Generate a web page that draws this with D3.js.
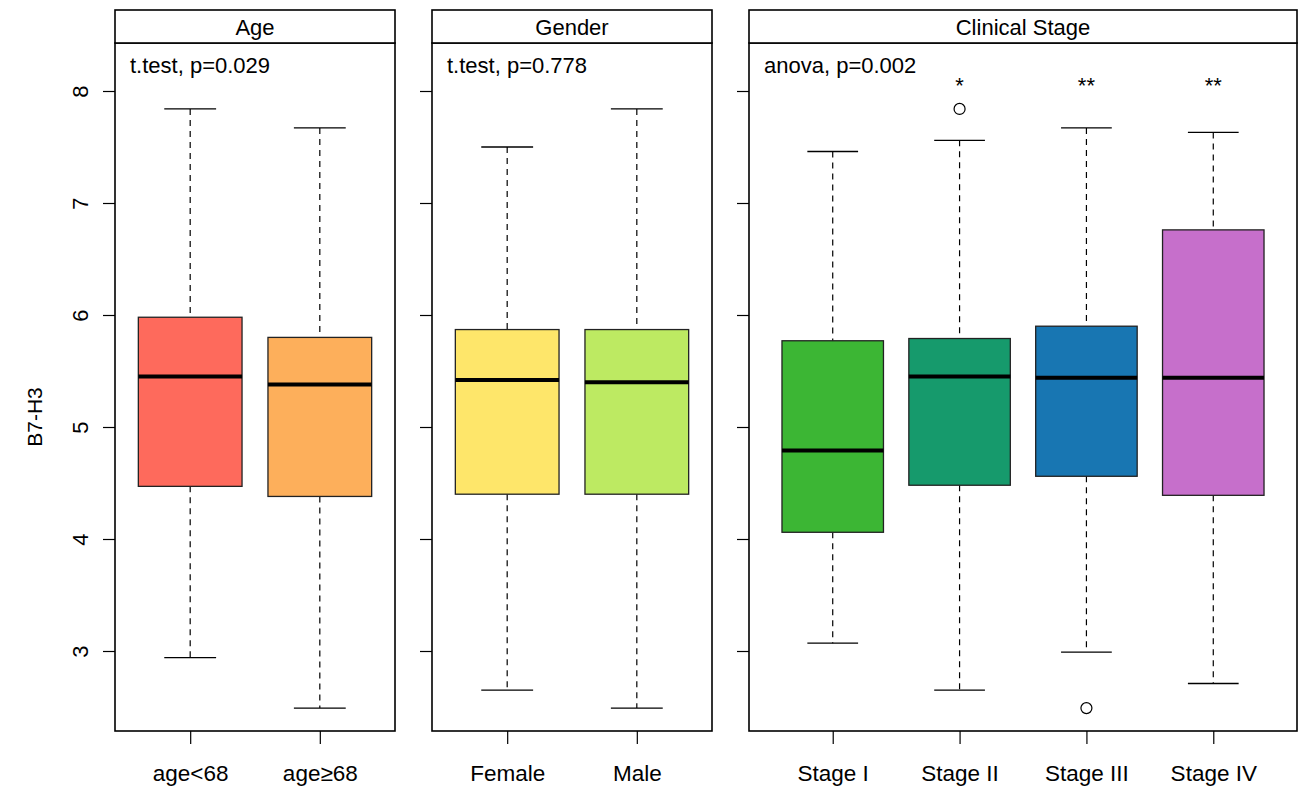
<!DOCTYPE html>
<html lang="en">
  <head>
    <meta charset="UTF-8" />
    <title>B7-H3 boxplots</title>
    <style>
      body { margin: 0; background: #fff; }
      text { font-family: "Liberation Sans", Arial, sans-serif; fill: #000; }
    </style>
  </head>
  <body>
    <svg width="1298" height="791"></svg>
    <script src="https://d3js.org/d3.v7.min.js"></script>
    <script>
      // panel info
      var panelNames = ["Age", "Gender", "Clinical Stage"];
      var panelTests = ["t.test, p=0.029", "t.test, p=0.778", "anova, p=0.002"];

      // groups
      var groups = ["age<68", "age\u226568", "Female", "Male", "Stage I", "Stage II", "Stage III", "Stage IV"];
      var groupPanel = [0, 0, 1, 1, 2, 2, 2, 2];
      var lowWhisker = [2.94, 2.49, 2.65, 2.49, 3.07, 2.65, 2.99, 2.71];
      var q1 = [4.47, 4.38, 4.40, 4.40, 4.06, 4.48, 4.56, 4.39];
      var median = [5.45, 5.38, 5.42, 5.40, 4.79, 5.45, 5.44, 5.44];
      var q3 = [5.98, 5.80, 5.87, 5.87, 5.77, 5.79, 5.90, 6.76];
      var highWhisker = [7.84, 7.67, 7.50, 7.84, 7.46, 7.56, 7.67, 7.63];
      var outliers = [[], [], [], [], [], [7.84], [2.49], []];
      var signif = ["", "", "", "", "", "*", "**", "**"];
      var colors = ["#FE6A5C", "#FDAF5B", "#FEE66A", "#BDEA62", "#3CB634", "#169A6C", "#1876B2", "#C66FCB"];
      var yTicks = [3, 4, 5, 6, 7, 8];

      var svg = d3.select("svg");

      // layout
      var stripTop = 10, stripH = 33, plotBottom = 731;
      var panelX = [[115, 395], [432, 712], [749, 1297]];

      var y = d3.scaleLinear()
        .domain([8 - (plotBottom - 91) / 112, 8 + (91 - stripTop - stripH) / 112])
        .range([plotBottom, stripTop + stripH]);

      panelNames.forEach(function(name, p) {
        var idx = d3.range(groups.length).filter(function(i) { return groupPanel[i] === p; });
        var n = idx.length;
        var ext = n * 0.04;
        var x = d3.scaleLinear()
          .domain([0.5 - ext, n + 0.5 + ext])
          .range(panelX[p]);
        var x0 = panelX[p][0], x1 = panelX[p][1];
        var g = svg.append("g");

        // y axis (labels only on the first panel)
        var yAxis = d3.axisLeft(y).tickValues(yTicks).tickSize(12)
          .tickFormat(p === 0 ? d3.format("d") : function() { return ""; });
        var ya = g.append("g")
          .attr("transform", "translate(" + x0 + ",0)")
          .call(yAxis);
        ya.select(".domain").remove();
        ya.selectAll("line").attr("stroke", "#000").attr("stroke-width", 1.2);
        ya.selectAll("text")
          .attr("font-size", 22)
          .attr("transform", "rotate(-90)")
          .attr("text-anchor", "middle")
          .attr("x", 0)
          .attr("y", -27)
          .attr("dy", 0);

        // x axis
        var xAxis = d3.axisBottom(x).tickValues(d3.range(1, n + 1)).tickSize(13).tickPadding(21)
          .tickFormat(function(d) { return groups[idx[d - 1]]; });
        var xa = g.append("g")
          .attr("transform", "translate(0," + plotBottom + ")")
          .call(xAxis);
        xa.select(".domain").remove();
        xa.selectAll("line").attr("stroke", "#000").attr("stroke-width", 1.2);
        xa.selectAll("text").attr("font-size", 22.5);

        // boxes
        var bw = 0.8 * (x(2) - x(1));
        idx.forEach(function(i, k) {
          var cx = x(k + 1);
          // whiskers
          g.append("line")
            .attr("x1", cx).attr("x2", cx)
            .attr("y1", y(highWhisker[i])).attr("y2", y(q3[i]))
            .attr("stroke", "#000").attr("stroke-width", 1.2)
            .attr("stroke-dasharray", "6,5");
          g.append("line")
            .attr("x1", cx).attr("x2", cx)
            .attr("y1", y(q1[i])).attr("y2", y(lowWhisker[i]))
            .attr("stroke", "#000").attr("stroke-width", 1.2)
            .attr("stroke-dasharray", "6,5");
          [highWhisker[i], lowWhisker[i]].forEach(function(v) {
            g.append("line")
              .attr("x1", cx - bw / 4).attr("x2", cx + bw / 4)
              .attr("y1", y(v)).attr("y2", y(v))
              .attr("stroke", "#000").attr("stroke-width", 1.3);
          });
          g.append("rect")
            .attr("x", cx - bw / 2)
            .attr("y", y(q3[i]))
            .attr("width", bw)
            .attr("height", y(q1[i]) - y(q3[i]))
            .attr("fill", colors[i])
            .attr("stroke", "#222")
            .attr("stroke-width", 1.3);
          g.append("line")
            .attr("x1", cx - bw / 2).attr("x2", cx + bw / 2)
            .attr("y1", y(median[i])).attr("y2", y(median[i]))
            .attr("stroke", "#000").attr("stroke-width", 4);
          outliers[i].forEach(function(v) {
            g.append("circle")
              .attr("cx", cx).attr("cy", y(v)).attr("r", 5.5)
              .attr("fill", "none").attr("stroke", "#000").attr("stroke-width", 1.2);
          });
          if (signif[i]) {
            g.append("text")
              .attr("x", cx).attr("y", 93)
              .attr("text-anchor", "middle")
              .attr("font-size", 22)
              .text(signif[i]);
          }
        });

        // frame + strip
        g.append("rect")
          .attr("x", x0).attr("y", stripTop + stripH)
          .attr("width", x1 - x0).attr("height", plotBottom - stripTop - stripH)
          .attr("fill", "none").attr("stroke", "#000").attr("stroke-width", 1.6);
        g.append("rect")
          .attr("x", x0).attr("y", stripTop)
          .attr("width", x1 - x0).attr("height", stripH)
          .attr("fill", "#fff").attr("stroke", "#000").attr("stroke-width", 1.6);
        g.append("text")
          .attr("x", (x0 + x1) / 2).attr("y", stripTop + 25)
          .attr("text-anchor", "middle")
          .attr("font-size", 22)
          .text(name);
        g.append("text")
          .attr("x", x0 + 15).attr("y", 73)
          .attr("font-size", 22)
          .text(panelTests[p]);
      });

      // y label
      svg.append("text")
        .attr("transform", "translate(42,417) rotate(-90)")
        .attr("text-anchor", "middle")
        .attr("font-size", 21)
        .text("B7-H3");
    </script>
  </body>
</html>
